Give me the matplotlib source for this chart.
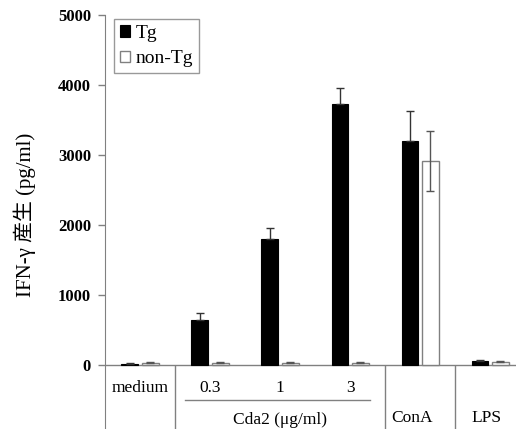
import matplotlib.pyplot as plt
import numpy as np

plt.rcParams['font.family'] = ['Liberation Serif', 'Noto Sans CJK JP']

groups = ['medium', '0.3', '1', '3', 'ConA', 'LPS']
tg = [20, 643, 1795, 3724, 3200, 60]
tg_err = [10, 95, 157, 237, 430, 10]
nontg = [35, 30, 30, 30, 2914, 50]
nontg_err = [10, 8, 8, 8, 433, 8]

x = np.arange(len(groups))
w = 0.24
off = 0.145
gray = '#808080'

fig = plt.figure(figsize=(5.16, 4.29), dpi=100)
ax = fig.add_axes([105/516, 0, 411/516, 414/429])

ax.bar(x - off, tg, w, color='black', edgecolor='black', linewidth=0.8, label='Tg', zorder=2)
ax.errorbar(x - off, tg, yerr=[np.zeros(len(tg)), tg_err], fmt='none',
            ecolor='#333333', elinewidth=1, capsize=3, zorder=3)
ax.bar(x + off, nontg, w, color='white', edgecolor=gray, linewidth=1, label='non-Tg', zorder=2)
ax.errorbar(x + off, nontg, yerr=nontg_err, fmt='none',
            ecolor='#555555', elinewidth=1, capsize=3, zorder=3)

ax.set_xlim(-0.5, 5.37)
ax.set_ylim(-914, 5000)
ax.set_yticks([0, 1000, 2000, 3000, 4000, 5000])
ax.set_yticklabels(['0', '1000', '2000', '3000', '4000', '5000'], fontweight='bold', fontsize=12)
ax.set_xticks([])
for s in ['top', 'right', 'bottom']:
    ax.spines[s].set_visible(False)
ax.spines['left'].set_color(gray)
ax.tick_params(axis='y', color=gray, length=5, width=1, pad=5)

# baseline and category separators
ax.axhline(0, color=gray, lw=1, zorder=1)
ax.vlines([0.5, 3.5, 4.5], -914, 0, color=gray, lw=1)
ax.plot([0.643, 3.286], [-500, -500], color=gray, lw=1)

for xi, lab in zip([0, 1, 2, 3], groups[:4]):
    ax.text(xi, -329, lab, ha='center', va='center', fontsize=12.5)
ax.text(2.0, -786, 'Cda2 (μg/ml)', ha='center', va='center', fontsize=12.5)
ax.text(3.88, -760, 'ConA', ha='center', va='center', fontsize=12.5)
ax.text(4.95, -760, 'LPS', ha='center', va='center', fontsize=12.5)

fig.text(25/516, 1 - 215/429, 'IFN-γ 産生 (pg/ml)', rotation=90,
         ha='center', va='center', fontsize=15)

leg = ax.legend(loc='upper left', bbox_to_anchor=(0.012, 1.0), fontsize=14,
                frameon=True, fancybox=False, edgecolor=gray, handlelength=0.55,
                handleheight=0.55, handletextpad=0.25, borderpad=0.3, labelspacing=0.45,
                borderaxespad=0.2)
leg.get_frame().set_linewidth(1)

fig.savefig('out.png', dpi=100)
